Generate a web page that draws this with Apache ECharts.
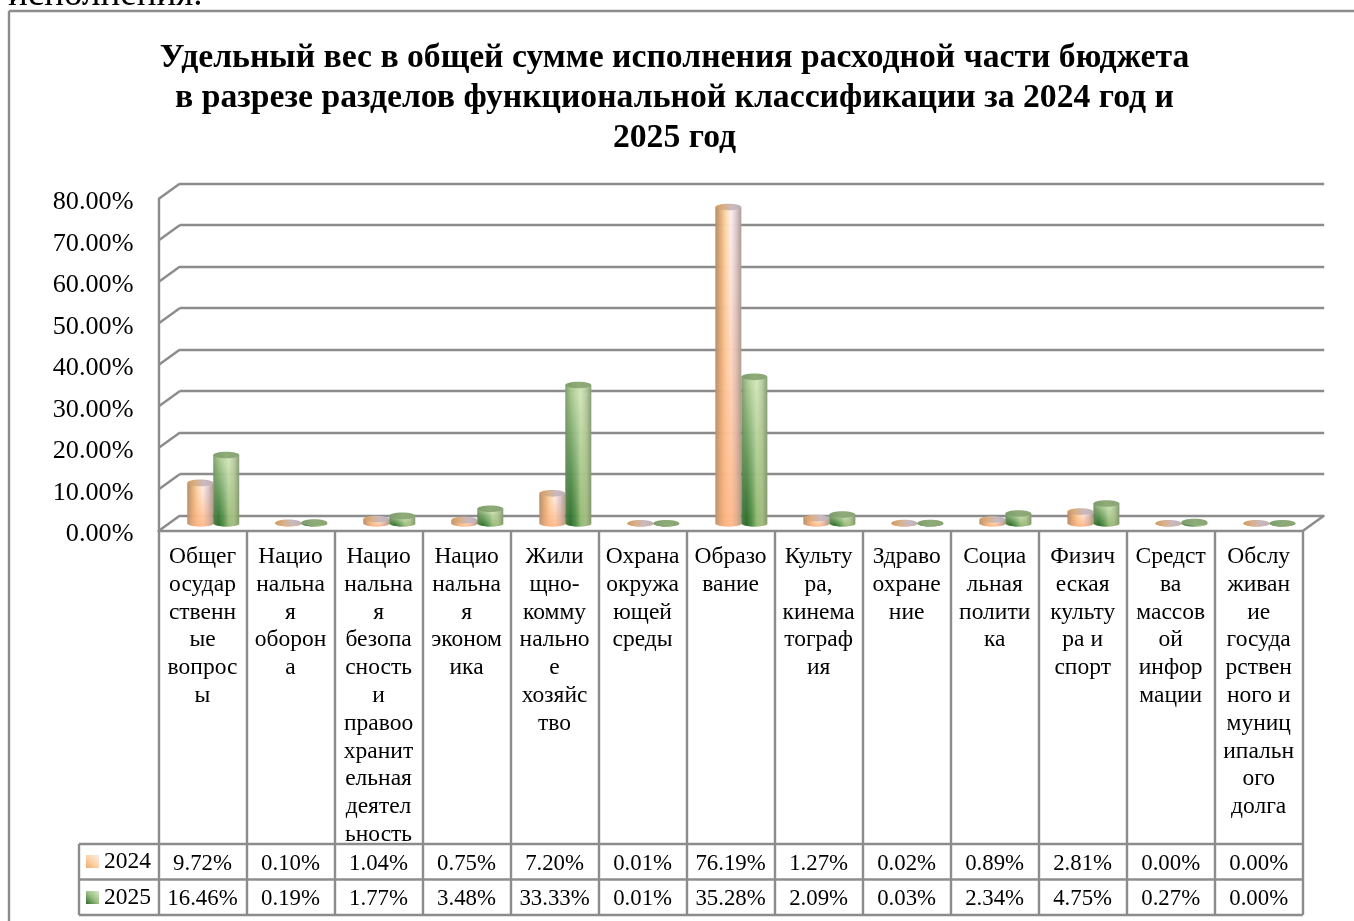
<!DOCTYPE html>
<html>
<head>
<meta charset="utf-8">
<style>
    html, body { margin: 0; padding: 0; background: #fff; }
    #chart { width: 1354px; height: 921px; }
</style>
<script src="https://cdn.jsdelivr.net/npm/echarts@6/dist/echarts.min.js"></script>
</head>
<body>
<div id="chart"></div>
<script>
    const titleText = 'Удельный вес в общей сумме исполнения расходной части бюджета\nв разрезе разделов функциональной классификации за 2024 год и\n2025 год'
    const categories = [
        'Общег\nосудар\nственн\nые\nвопрос\nы',
        'Нацио\nнальна\nя\nоборон\nа',
        'Нацио\nнальна\nя\nбезопа\nсность\nи\nправоо\nхранит\nельная\nдеятел\nьность',
        'Нацио\nнальна\nя\nэконом\nика',
        'Жили\nщно-\nкомму\nнально\nе\nхозяйс\nтво',
        'Охрана\nокружа\nющей\nсреды',
        'Образо\nвание',
        'Культу\nра,\nкинема\nтограф\nия',
        'Здраво\nохране\nние',
        'Социа\nльная\nполити\nка',
        'Физич\nеская\nкульту\nра и\nспорт',
        'Средст\nва\nмассов\nой\nинфор\nмации',
        'Обслу\nживан\nие\nгосуда\nрствен\nного и\nмуниц\nипальн\nого\nдолга'
    ]
    const names = ['2024', '2025']
    const values2024 = [9.72, 0.10, 1.04, 0.75, 7.20, 0.01, 76.19, 1.27, 0.02, 0.89, 2.81, 0.00, 0.00]
    const values2025 = [16.46, 0.19, 1.77, 3.48, 33.33, 0.01, 35.28, 2.09, 0.03, 2.34, 4.75, 0.27, 0.00]
    const yTicks = [0, 10, 20, 30, 40, 50, 60, 70, 80]

    const serif = 'Liberation Serif'
    const lineColor = '#8c8c8c'
    const lineWidth = 2.4

    // плоскости псевдо-3D: передняя, середина (цилиндры), задняя
    const plotLeft = 158.5, plotWidth = 1144.2, plotTop = 199, plotHeight = 332
    const depthX = 21.5, depthY = 15.5

    const orangeTop = ['#b08a6a', '#e2ac76', '#fdd9a8', '#fdf0f2', '#dcc8d2', '#a89c90']
    const orangeBottom = ['#b89070', '#e8a676', '#ffb584', '#ffbb8b', '#e8b08c', '#b09a86']
    const greenTop = ['#7f9c70', '#a9c88f', '#c5dcaa', '#d6e8c0', '#b8cc9e', '#869a78']
    const greenBottom = ['#4d7c3f', '#2a6b2a', '#4b8a42', '#93b873', '#a2bc7c', '#7f9568']
    const orangeCap = ['#cf9a62', '#d9b088', '#c9b9c2', '#bdb0b0']
    const greenCap = ['#7d9c6c', '#8eab78', '#8aa574']

    const barWidth = 26, capRy = 3.3

    function hGradient(colors) {
        return {
            type: 'linear', x: 0, y: 0, x2: 1, y2: 0,
            colorStops: colors.map((c, i) => ({offset: i / (colors.length - 1), color: c}))
        }
    }

    function cylinder(side, topStops, bottomStops, capStops) {
        return function (params, api) {
            const base = api.coord([api.value(0), 0])
            const top = api.coord([api.value(0), api.value(1)])
            const x0 = base[0] + (side < 0 ? -barWidth : 0)
            const children = []
            for (let i = 0; i < barWidth; i++) {
                const u = (i + 0.5) / barWidth
                const rim = capRy * Math.sqrt(1 - (2 * u - 1) * (2 * u - 1))
                children.push({
                    type: 'rect',
                    shape: {x: x0 + i, y: top[1], width: i === barWidth - 1 ? 1 : 1.6, height: base[1] + rim - top[1]},
                    style: {
                        fill: {
                            type: 'linear', x: 0, y: 0, x2: 0, y2: 1,
                            colorStops: [
                                {offset: 0, color: echarts.color.lerp(u, topStops)},
                                {offset: 1, color: echarts.color.lerp(u, bottomStops)}
                            ]
                        }
                    }
                })
            }
            children.push({
                type: 'ellipse',
                shape: {cx: x0 + barWidth / 2, cy: top[1], rx: barWidth / 2, ry: capRy},
                style: {fill: hGradient(capStops)}
            })
            return {type: 'group', children: children}
        }
    }

    // косые линии от передней стенки к задней
    function renderDepth(params, api) {
        const half = api.size([1, 0])[0] / 2
        const p = api.coord([api.value(0), api.value(1)])
        const x = p[0] + api.value(2) * half
        return {
            type: 'line',
            shape: {x1: x, y1: p[1], x2: x + depthX, y2: p[1] - depthY},
            style: {stroke: lineColor, lineWidth: lineWidth}
        }
    }

    const depthData = yTicks.map(v => [0, v, -1])
    depthData.push([categories.length - 1, 0, 1])

    const rowLabel = {
        show: true, interval: 0, margin: 0, verticalAlign: 'middle',
        fontFamily: serif, fontSize: 22.8, color: '#000',
        formatter: v => Number(v).toFixed(2) + '%'
    }
    const hidden = {axisLine: {show: false}, axisTick: {show: false}}
    const stroke = {stroke: lineColor, lineWidth: lineWidth}

    const option = {
        animation: false,
        backgroundColor: '#fff',
        title: {
            text: titleText,
            left: 669.5, top: 33, textAlign: 'center',
            textStyle: {fontFamily: serif, fontWeight: 'bold', fontSize: 33.7, lineHeight: 40, color: '#000'}
        },
        grid: [
            {left: plotLeft, width: plotWidth, top: plotTop, height: plotHeight},
            {left: plotLeft + depthX, width: plotWidth, top: plotTop - depthY, height: plotHeight},
            {left: plotLeft + depthX / 2, width: plotWidth, top: plotTop - depthY / 2, height: plotHeight}
        ],
        xAxis: [
            {
                type: 'category', gridIndex: 0, data: categories,
                axisLine: {lineStyle: {color: lineColor, width: lineWidth}},
                axisTick: {show: true, length: 384, lineStyle: {color: lineColor, width: lineWidth}},
                axisLabel: {
                    interval: 0, margin: 12, verticalAlign: 'top', align: 'center',
                    fontFamily: serif, fontSize: 23.5, lineHeight: 27.8, color: '#000'
                }
            },
            {type: 'category', gridIndex: 0, position: 'bottom', offset: 333, data: values2024, ...hidden, axisLabel: rowLabel},
            {type: 'category', gridIndex: 0, position: 'bottom', offset: 368, data: values2025, ...hidden, axisLabel: rowLabel},
            {type: 'category', gridIndex: 1, data: categories, show: false},
            {type: 'category', gridIndex: 2, data: categories, show: false}
        ],
        yAxis: [
            {
                type: 'value', gridIndex: 0, min: 0, max: 80, interval: 10,
                axisLine: {show: true, lineStyle: {color: lineColor, width: lineWidth}},
                axisTick: {show: false},
                splitLine: {show: false},
                axisLabel: {
                    margin: 25, fontFamily: serif, fontSize: 26.2, color: '#000',
                    verticalAlign: 'top', lineHeight: 7,
                    formatter: v => v.toFixed(2) + '%'
                }
            },
            {
                type: 'value', gridIndex: 1, min: 0, max: 80, interval: 10,
                axisLine: {show: false}, axisTick: {show: false}, axisLabel: {show: false},
                splitLine: {show: true, lineStyle: {color: lineColor, width: lineWidth}}
            },
            {
                type: 'value', gridIndex: 2, min: 0, max: 80, interval: 10, show: false,
                splitLine: {show: false}
            }
        ],
        series: [
            {
                type: 'custom', name: 'depth', xAxisIndex: 0, yAxisIndex: 0, clip: false, z: 1,
                data: depthData, renderItem: renderDepth, silent: true
            },
            {
                type: 'custom', name: names[0], xAxisIndex: 4, yAxisIndex: 2, clip: false, z: 3,
                data: values2024.map((v, i) => [i, v]),
                renderItem: cylinder(-1, orangeTop, orangeBottom, orangeCap)
            },
            {
                type: 'custom', name: names[1], xAxisIndex: 4, yAxisIndex: 2, clip: false, z: 4,
                data: values2025.map((v, i) => [i, v]),
                renderItem: cylinder(1, greenTop, greenBottom, greenCap)
            }
        ],
        graphic: [
            // рамка диаграммы и обрезанная строка текста над ней
            {type: 'line', shape: {x1: 9, y1: 11, x2: 1354, y2: 11}, style: stroke},
            {type: 'line', shape: {x1: 9, y1: 11, x2: 9, y2: 921}, style: stroke},
            {type: 'text', x: 8, y: 14, style: {text: 'исполнения.', fontFamily: serif, fontSize: 37, fill: '#000', verticalAlign: 'bottom'}},
            // строки таблицы данных
            {type: 'line', shape: {x1: 79, y1: 844, x2: plotLeft + plotWidth, y2: 844}, style: stroke},
            {type: 'line', shape: {x1: 79, y1: 879.5, x2: plotLeft + plotWidth, y2: 879.5}, style: stroke},
            {type: 'line', shape: {x1: 79, y1: 915, x2: plotLeft + plotWidth, y2: 915}, style: stroke},
            {type: 'line', shape: {x1: 79, y1: 844, x2: 79, y2: 915}, style: stroke},
            {
                type: 'rect', shape: {x: 86, y: 855, width: 13, height: 13},
                style: {fill: {type: 'linear', x: 0, y: 1, x2: 1, y2: 0, colorStops: [
                    {offset: 0, color: '#f6a870'}, {offset: 0.5, color: '#fcd4a8'}, {offset: 1, color: '#fbeaf0'}
                ]}}
            },
            {
                type: 'rect', shape: {x: 86, y: 891, width: 13, height: 13},
                style: {fill: {type: 'linear', x: 0, y: 1, x2: 1, y2: 0, colorStops: [
                    {offset: 0, color: '#2a6b2a'}, {offset: 0.5, color: '#9cc084'}, {offset: 1, color: '#d8e8cc'}
                ]}}
            },
            {type: 'text', x: 104, y: 862, style: {text: names[0], fontFamily: serif, fontSize: 23.5, fill: '#000', verticalAlign: 'middle'}},
            {type: 'text', x: 104, y: 898, style: {text: names[1], fontFamily: serif, fontSize: 23.5, fill: '#000', verticalAlign: 'middle'}}
        ]
    }

    const chart = echarts.init(document.getElementById('chart'), null, {renderer: 'canvas'})
    chart.setOption(option)
    window.addEventListener('resize', () => chart.resize())
</script>
</body>
</html>
